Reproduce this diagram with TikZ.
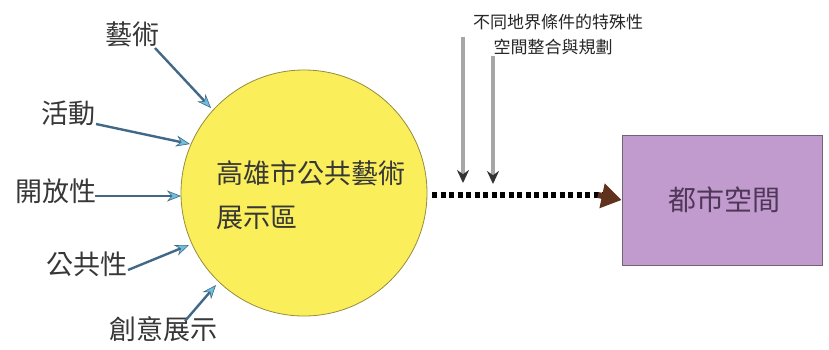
\documentclass[tikz,border=0pt]{standalone}
\usepackage{fontspec}
\setmainfont{Noto Sans CJK TC}
\usetikzlibrary{arrows.meta}
\definecolor{circfill}{RGB}{250,238,90}
\definecolor{circdraw}{RGB}{150,140,60}
\definecolor{boxfill}{RGB}{193,155,205}
\definecolor{boxdraw}{RGB}{110,100,115}
\definecolor{boxtext}{RGB}{80,55,90}
\definecolor{inlinecol}{RGB}{65,105,135}
\definecolor{inhead}{RGB}{110,190,220}
\definecolor{txtgray}{RGB}{55,55,55}
\definecolor{tipbrown}{RGB}{95,50,30}
\tikzset{
  lab/.style={font=\fontsize{27}{29}\selectfont, text=txtgray, inner sep=1pt},
  inarrow/.style={draw=inlinecol, line width=2.4pt, -{Stealth[length=14pt,width=11pt,fill=inhead,color=inlinecol,line width=0.6pt]}},
  downarrow/.style={draw=gray!70, line width=4pt, -{Stealth[length=13pt,width=12pt,fill=black!80,color=black!80]}},
  toptext/.style={font=\fontsize{17}{19}\selectfont, text=black!85, inner sep=0pt}
}
\begin{document}
\begin{tikzpicture}[x=1pt,y=-1pt]
\useasboundingbox (0,0) rectangle (829,349);
% circle
\node[circle, minimum size=246pt, fill=circfill, draw=circdraw, line width=0.8pt] (c) at (304,193) {};
\node[font=\fontsize{27}{29}\selectfont, text=txtgray, anchor=west, inner sep=0pt] (t1) at (216,173) {高雄市公共藝術};
\node[font=\fontsize{27}{29}\selectfont, text=txtgray, anchor=west, inner sep=0pt] (t2) at (216,218) {展示區};
% box
\node[rectangle, minimum width=200pt, minimum height=130pt, fill=boxfill, draw=boxdraw, line width=0.8pt] (box) at (722,200) {};
\node[font=\fontsize{28}{30}\selectfont, text=boxtext, inner sep=0pt] (bt) at (724,200) {都市空間};
% left labels
\node[lab] (l1) at (132,34) {藝術};
\node[lab] (l2) at (68,113) {活動};
\node[lab] (l3) at (56,191) {開放性};
\node[lab] (l4) at (87,264) {公共性};
\node[lab] (l5) at (163,329) {創意展示};
\coordinate (a1s) at (155,48);
\coordinate (a1e) at (211,108);
\coordinate (a2s) at (96,124);
\coordinate (a2e) at (190,144);
\coordinate (a3s) at (95,196);
\coordinate (a3e) at (181,196);
\coordinate (a4s) at (128,270);
\coordinate (a4e) at (189,245);
\coordinate (a5s) at (185,321);
\coordinate (a5e) at (216,285);
\draw[inarrow] (a1s) -- (a1e);
\draw[inarrow] (a2s) -- (a2e);
\draw[inarrow] (a3s) -- (a3e);
\draw[inarrow] (a4s) -- (a4e);
\draw[inarrow] (a5s) -- (a5e);
% dotted connector
\coordinate (ds) at (432,195);
\draw[line width=6pt, dash pattern=on 5pt off 3.5pt, black] (ds) -- (604,195);
\draw[tipbrown, line width=6pt, -{Triangle[length=20pt,width=24pt]}] (598,195) -- (box.west);
% top texts
\node[toptext] (tt1) at (558,22) {不同地界條件的特殊性};
\node[toptext] (tt2) at (553,47) {空間整合與規劃};
\coordinate (d1s) at (463,37);
\coordinate (d1e) at (463,183);
\coordinate (d2s) at (493,56);
\coordinate (d2e) at (493,184);
\draw[downarrow] (d1s) -- (d1e);
\draw[downarrow] (d2s) -- (d2e);
\end{tikzpicture}
\end{document}
